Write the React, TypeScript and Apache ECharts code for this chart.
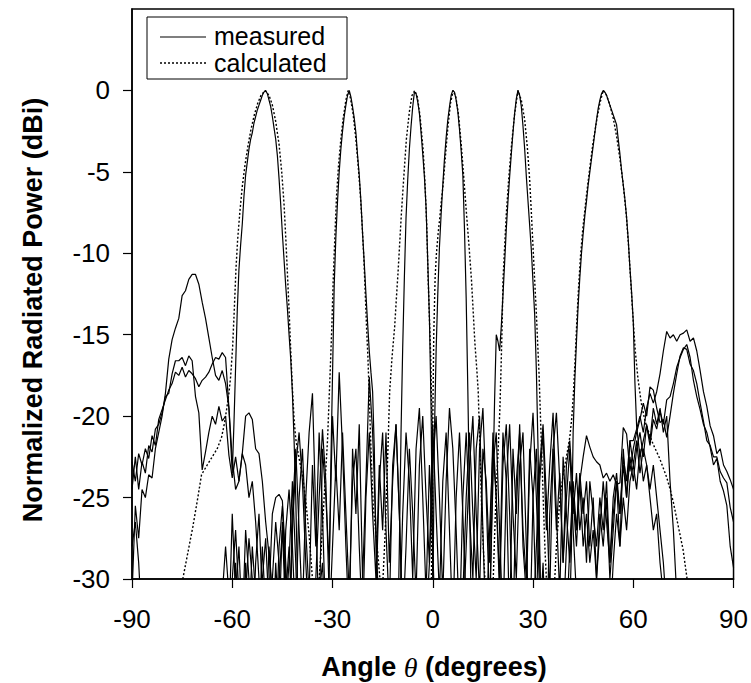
import React, { useEffect, useRef } from "react";
import * as echarts from "echarts";

// Measured patterns: one value per degree from -90 to 90 (null where the
// finer 0.5-degree main-lobe samples take over).
const beamM50Side: (number | null)[] = [
  -22.8, -24.0, -22.3, -23.0, -22.0, -22.6, -21.2, -21.8, -20.2, -19.6,
  -19.0, -18.4, -18.0, -17.3, -17.5, -17.0, -17.6, -17.2, -17.4, -17.7,
  -18.2, -17.8, -17.6, -17.3, -16.8, -16.4, -16.5, -16.1, -16.4, -19.5,
  null, null, null, null, null, null, null, null, null, null,
  null, null, null, null, null, null, null, null, null, null,
  null, -33, -36, -34, -38, -35, -37, -36, -34, -37,
  -35, -38, -36, -34, -37, -35, -38, -36, -33, -35,
  -37, -34, -36, -31, -24, -21, -27, -32, -23, -20.5,
  -26, -33, -36, -38, -35, -37, -34, -36, -38, -35,
  -37, -34, -36, -38, -35, -33, -37, -36, -34, -31,
  -25, -21, -26, -30, -22, -19.5, -25, -32, -23, -21,
  -27, -33, -24, -20.5, -26, -30, -23, -21, -28, -34,
  -25, -22, -29, -35, -37, -34, -36, -38, -35, -33,
  -28, -24, -26, -23.5, -27, -25, -29, -24, -26, -28,
  -25, -27, -24, -29, -26, -24, -28, -22, -25, -21.5,
  -21.5, -20.8, -20.0, -21.0, -19.5, -18.6, -19.2, -18.5, -17.4, -16.0,
  -14.8, -15.2, -15.0, -15.4, -15.0, -14.9, -14.7, -15.4, -15.2, -16.0,
  -17.2, -18.5, -19.4, -20.6, -21.2, -22.3, -22.0, -23.0, -23.4, -23.9,
  -24.5,
];
const beamM50LobeStart = -60;
const beamM50Lobe = [
  -23.5, -20.5, -17.0, -13.5, -11.0, -9.5, -8.2, -6.5, -5.2, -4.4,
  -3.6, -3.0, -2.6, -2.0, -1.6, -1.2, -0.9, -0.6, -0.3, -0.1,
  0.0, -0.2, -0.6, -1.0, -1.6, -2.3, -3.0, -4.0, -5.4, -7.0,
  -8.8, -10.4, -12.0, -13.4, -15.0, -16.5, -18.6, -21.5, -25, -30,
  -35,
];

const beamM25Side: (number | null)[] = [
  -24.5, -22.5, -24.5, -22.8, -23.5, -21.8, -22.2, -20.8, -20.5, -19.8,
  -18.8, -18.6, -17.4, -16.6, -16.6, -16.4, -16.9, -16.3, -16.6, -18.8,
  -19.8, -23.3, -22.2, -21.0, -20.0, -20.5, -19.4, -20.3, -20.0, -22.4,
  -23.8, -22.5, -24.0, -22.3, -20.0, -19.8, -20.2, -22.0, -22.3, -24.0,
  -26.5, -28.5, -31, -34, -28, -25.5, -30, -35, -27, -23,
  -21, -24, -29, -33, -36, -34, -31, -29, -34, null,
  null, null, null, null, null, null, null, null, null, null,
  null, null, null, null, null, -37, -34, -36, -38, -35,
  -37, -34, -36, -38, -35, -37, -34, -36, -33, -29,
  -23, -20, -25, -31, -24, -19.5, -22, -27, -33, -25,
  -21, -26, -30, -22, -20, -27, -34, -36, -38, -35,
  -37, -34, -36, -38, -35, -37, -34, -36, -38, -35,
  -33, -28, -23, -20.5, -25, -31, -22, -19.8, -24, -29,
  -23, -21.5, -25, -28, -24, -22.5, -21.2, -21.9, -22.5, -22.8,
  -23.0, -23.8, -23.5, -24, -23.6, -24.2, -24.1, -20.7, -21.1, -23.4,
  -22.0, -21.0, -20.2, -19.2, -20.0, -18.2, -18.4, -19.5, -20.4, -20.2,
  -21.3, -20.0, -18.6, -17.4, -16.3, -15.8, -15.9, -16.8, -17.2, -18.0,
  -19.2, -20.3, -21.5, -21.8, -22.5, -22.5, -23.4, -23.8, -24.1, -25.6,
  -26.5,
];
const beamM25LobeStart = -31;
const beamM25Lobe = [
  -30, -23, -17.5, -12, -9.0, -6.8, -5.0, -3.6, -2.5, -1.6,
  -0.9, -0.3, 0.0, -0.4, -1.0, -1.7, -2.6, -4.0, -5.2, -6.8,
  -8.8, -10.6, -12.5, -14.3, -16.0, -17.3, -18.5, -22, -28, -33,
  -35,
];

const beamM6Side: (number | null)[] = [
  -28, -26.5, -29, -33, -36, -34, -37, -35, -38, -36,
  -37, -35, -38, -36, -39, -37, -35, -38, -36, -34,
  -37, -35, -33, -36, -34, -32, -35, -31, -28, -31,
  -34, -29, -33, -36, -31, -27.5, -30, -35, -33, -28,
  -32, -36, -30, -26.5, -29, -34, -27, -24.5, -28, -33,
  -25, -22, -27, -31, -23, -28, -21, -26, -33, -36,
  -38, -35, -37, -34, -36, -38, -35, -37, -34, -36,
  -38, -35, -37, -34, -36, -38, -35, -33, -36, -34,
  null, null, null, null, null, null, null, null, null, null,
  null, -36, -38, -35, -37, -34, -36, -38, -35, -33,
  -28, -23, -20, -26, -31, -22, -24, -29, -21, -25,
  -31, -23, -20.5, -26, -33, -24, -21, -27, -30, -22,
  -25, -32, -24, -21, -27, -23, -19.8, -26, -31, -22.5,
  -26, -29, -25, -27, -24, -28, -26, -29, -27, -30,
  -26, -28, -25, -30, -27, -24, -26, -23, -25, -22.5,
  -24, -22, -21, -22.5, -20.5, -21.5, -19.5, -20.5, -19.5, -21.0,
  -20.0, -24, -27, -31, -35, -36, -38, -37, -39, -36,
  -38, -37, -39, -36, -38, -37, -39, -38, -36, -37,
  -38,
];
const beamM6LobeStart = -10.5;
const beamM6Lobe = [
  -34, -28, -21, -15.8, -11.5, -7.8, -5.5, -3.6, -2.2, -1.0,
  -0.1, -0.2, -0.7, -1.4, -2.6, -3.9, -5.3, -7.2, -10.5, -14.0,
  -19.5, -30,
];

const beamP6Side: (number | null)[] = [
  -36, -38, -35, -37, -39, -36, -38, -37, -35, -38,
  -36, -39, -37, -35, -38, -36, -37, -39, -36, -38,
  -35, -37, -36, -38, -34, -36, -33, -35, -32, -34,
  -30, -27, -31, -35, -29, -33, -28, -31, -36, -30,
  -27.5, -32, -35, -29, -33, -26.5, -31, -28, -33, -30,
  -36, -38, -35, -37, -34, -33, -36, -38, -35, -33,
  -28, -23, -27, -21, -26, -31, -24, -22, -28, -33,
  -25, -21, -26, -30, -23, -27, -21, -29, -24, -20.5,
  -26, -33, -36, -38, -35, -37, -34, -36, -33, -36,
  null, null, null, null, null, null, null, null, null, null,
  null, null, -35, -37, -34, -36, -38, -35, -37, -36,
  -38, -35, -37, -34, -36, -38, -35, -37, -34, -36,
  -38, -35, -33, -29, -35, -26, -22, -27, -23.5, -29,
  -25, -22, -27, -31, -35, -37, -34, -36, -38, -35,
  -37, -34, -36, -33, -29, -26, -28, -25, -27, -24,
  -23, -24.5, -22, -24, -23, -25, -27, -26, -29, -31,
  -34, -35, -37, -36, -38, -36, -37, -39, -36, -38,
  -37, -35, -38, -36, -37, -39, -36, -38, -37, -36,
  -38,
];
const beamP6LobeStart = 0;
const beamP6Lobe = [
  -32, -21, -16.0, -12.5, -9.6, -7.6, -5.8, -4.2, -2.9, -1.8,
  -1.0, -0.3, 0.0, -0.1, -0.6, -1.3, -2.4, -3.7, -5.2, -8.6,
  -12.8, -18.5, -25, -32,
];

const beamP25Side: (number | null)[] = [
  -37, -35, -38, -36, -39, -37, -36, -38, -35, -37,
  -39, -36, -38, -37, -35, -38, -36, -39, -37, -35,
  -38, -36, -34, -37, -35, -33, -36, -34, -31, -33,
  -26, -31, -28, -33, -27, -30, -35, -29, -26, -31,
  -34, -28, -31, -36, -30, -27, -32, -29, -24, -29,
  -36, -38, -35, -37, -34, -30, -25, -20.8, -24, -31,
  -36, -38, -35, -37, -34, -36, -38, -35, -37, -34,
  -36, -38, -35, -37, -34, -36, -38, -35, -37, -34,
  -36, -33, -28, -22, -26, -31, -23, -20, -25, -29,
  -20.5, -26, -31, -24, -21, -27, -33, -25, -21, -26,
  -32, -36, -38, -35, -37, -34, -36, -33, null, null,
  null, null, null, null, null, null, null, null, null, null,
  null, null, null, null, -36, -38, -35, -37, -34, -36,
  -33, -28, -24, -27, -23.5, -26, -24, -28, -25, -30,
  -27, -24, -26.5, -29, -25, -23.5, -26, -22.5, -24, -21.5,
  -23, -21.5, -23.5, -22, -23, -24.5, -23, -25, -27, -29,
  -32, -34, -36, -35, -37, -36, -38, -35, -37, -39,
  -36, -38, -37, -35, -38, -36, -37, -39, -36, -38,
  -37,
];
const beamP25LobeStart = 17.5;
const beamP25Lobe = [
  -28, -24, -19, -15.0, -15.4, -16.0, -14.5, -12.6, -10.6, -8.5,
  -6.8, -5.3, -3.9, -2.6, -1.4, -0.5, 0.0, -0.3, -1.0, -2.2,
  -3.6, -5.3, -6.8, -8.3, -9.8, -11.8, -13.8, -17.2, -22, -28,
  -34, -36,
];

const beamP50Side: (number | null)[] = [
  -31, -25.5, -27.5, -24.5, -25.0, -23.6, -23.8, -22.0, -21.0, -20.0,
  -18.6, -16.5, -15.3, -14.6, -14.0, -12.6, -12.3, -11.6, -11.3, -11.3,
  -11.9, -13.0, -14.0, -15.2, -16.4, -17.5, -17.8, -17.2, -18.0, -19.5,
  -22.6, -24.5, -24.0, -22.3, -23.0, -25.0, -24.0, -26.5, -30, -35,
  -38, -31, -26, -25.0, -24.8, -25.2, -29, -34, -26, -22,
  -27, -32, -25, -21, -18.6, -26, -33, -22, -25, -29,
  -20, -24, -17.3, -22, -28, -33, -22, -26, -20.5, -30,
  -24, -17.6, -21, -27, -33, -36, -34, -37, -35, -38,
  -33, -26, -21, -24, -30, -22, -19.5, -25, -31, -23,
  -28, -35, -37, -34, -36, -38, -35, -37, -34, -36,
  -38, -35, -37, -34, -36, -38, -33, -27, -22, -25,
  -30, -21, -24, -33, -22, -26, -20.5, -28, -31, -23,
  -19.8, -25, -31, -36, -38, -35, -37, -34, -36, -38,
  -35, -32, null, null, null, null, null, null, null, null,
  null, null, null, null, null, null, null, null, null, null,
  null, null, -22.5, -21.5, -20.6, -21.8, -20.2, -20.8, -19.7, -20.5,
  -19.0, -18.8, -18.0, -17.0, -16.4, -15.9, -15.6, -16.4, -17.8, -18.8,
  -19.6, -20.5, -21.0, -21.9, -23.0, -22.6, -24.0, -24.6, -25.5, -28.0,
  -29.3,
];
const beamP50LobeStart = 41.5;
const beamP50Lobe = [
  -28, -21, -17.8, -15.4, -13.2, -11.5, -10.0, -8.8, -7.7, -6.8,
  -5.8, -5.0, -4.2, -3.4, -2.6, -1.8, -1.1, -0.6, -0.2, 0.0,
  -0.1, -0.3, -0.6, -0.9, -1.2, -1.5, -1.8, -2.1, -3.0, -3.9,
  -4.9, -5.8, -6.7, -7.8, -9.2, -10.9, -12.4, -14.2, -18.0, -20.6,
];

// Calculated patterns as [angle, dB] samples.
const calcM50: [number, number][] = [
  [-74.8, -30], [-73.3, -28.4], [-71.8, -26.8], [-70.3, -25.0], [-69.2, -23.6],
  [-67.5, -23.0], [-66, -22.5], [-64.5, -22.0], [-63.2, -21.3], [-62.3, -20.4],
  [-61.7, -19.6], [-61, -18.6], [-60.5, -17.6], [-59.9, -15.8], [-59.4, -13.5],
  [-58.9, -11.0], [-58.4, -9.2], [-57.7, -7.4], [-57, -5.9], [-56.2, -4.6],
  [-55.3, -3.4], [-54.4, -2.4], [-53.4, -1.5], [-52.4, -0.8], [-51.4, -0.3],
  [-50.2, 0], [-49, -0.3], [-48, -0.9], [-47, -1.9], [-46, -3.3],
  [-45.2, -5.0], [-44.5, -7.0], [-44, -9.0], [-43.5, -11.2], [-43, -13.5],
  [-42.5, -16.0], [-42, -18.3], [-41.5, -20.2], [-41, -21.4], [-40, -22.6],
  [-39, -23.6], [-38, -25.2], [-37, -27.3], [-36, -30],
];
const calcM25: [number, number][] = [
  [-34, -30], [-33.5, -28.5], [-32.5, -25], [-31.5, -21.5], [-30.8, -17.8],
  [-30.2, -14.5], [-29.8, -11.7], [-29.3, -9.0], [-28.8, -6.5], [-28.2, -4.6],
  [-27.5, -3.0], [-26.8, -1.7], [-26, -0.6], [-25.3, 0], [-24.6, -0.5],
  [-23.8, -1.5], [-23, -3.0], [-22.4, -4.4], [-21.8, -6.0], [-21.2, -8.0],
  [-20.6, -10.4], [-20.2, -12.5], [-19.8, -14.6], [-19.4, -16.4], [-19, -18.8],
  [-18.5, -22], [-17.8, -25.6], [-16.8, -27.6], [-15.8, -30],
];
const calcM6: [number, number][] = [
  [-14.9, -30], [-14.2, -27], [-13.9, -25], [-13.4, -21.9], [-12.9, -18.5],
  [-12.2, -16.4], [-11.4, -14.5], [-10.9, -12.8], [-10.4, -11.2], [-9.9, -9.4],
  [-9.4, -7.6], [-8.7, -5.4], [-7.9, -3.0], [-7, -1.3], [-6.2, -0.3],
  [-5.4, 0], [-4.6, -0.4], [-3.8, -1.6], [-2.9, -3.6], [-2.3, -5.8],
  [-1.8, -8.3], [-1.4, -11.5], [-1.0, -14], [-0.6, -16.5], [-0.2, -21],
  [0.1, -30],
];
const calcP6: [number, number][] = [
  [-0.4, -30], [-0.1, -22], [0.3, -15], [0.7, -11.5], [1.1, -10],
  [1.6, -8.8], [2.1, -7.8], [2.6, -6.7], [3.1, -5.8], [3.8, -4.0],
  [4.5, -2.3], [5.3, -0.8], [6.1, 0], [6.9, -0.4], [7.7, -1.5],
  [8.5, -3.3], [9.3, -5.4], [10.1, -7.6], [10.9, -9.7], [11.6, -11.7],
  [12.1, -13.6], [12.6, -15.5], [13.2, -17.2], [13.6, -18.5], [14.1, -21.9],
  [14.6, -25.5], [15.1, -28], [15.6, -30],
];
const calcP25: [number, number][] = [
  [18.1, -30], [18.4, -28], [18.9, -25], [19.6, -21.9], [20.1, -19.5],
  [20.5, -16.5], [20.8, -14.0], [21.0, -11.7], [21.5, -9.6], [22.0, -7.6],
  [22.7, -5.5], [23.5, -3.5], [24.4, -1.6], [25.5, 0], [26.5, -0.6],
  [27.5, -1.8], [28.3, -3.5], [29, -5.5], [29.5, -7.5], [30, -9.6],
  [30.5, -11.7], [31, -13.7], [31.4, -15.6], [31.8, -17.4], [32.3, -20.5],
  [32.8, -23.5], [33.2, -26], [33.6, -28.3], [34, -30],
];
const calcP50: [number, number][] = [
  [36.5, -30], [37, -28], [38, -25.2], [39, -23.6], [40, -22.5],
  [41, -21.3], [41.6, -20.1], [42.1, -18.6], [42.6, -16.5], [43.1, -14.2],
  [43.6, -12.2], [44.2, -10.2], [44.9, -8.5], [45.9, -6.6], [46.9, -4.9],
  [47.9, -3.3], [49, -1.9], [50, -0.8], [51, 0], [52, -0.3],
  [53, -0.9], [54, -1.7], [55, -2.8], [56, -4.2], [57, -5.8],
  [57.9, -7.6], [58.6, -9.6], [59.2, -11.6], [59.9, -13.9], [60.6, -16.0],
  [61.4, -17.7], [62.4, -19.2], [63.5, -20.3], [64.8, -21.1], [65.9, -21.7],
  [67.9, -22.6], [69.9, -23.7], [70.9, -24.4], [72, -25.3], [72.9, -26.2],
  [73.9, -27.2], [74.9, -28.2], [76.1, -30],
];

const xTicks = [-90, -60, -30, 0, 30, 60, 90];
const yTicks = [-30, -25, -20, -15, -10, -5, 0];
const legendLabels = ["measured", "calculated"];

const FONT = "'Liberation Sans', Arial, Helvetica, sans-serif";

// Joins the 1-degree sidelobe samples with the 0.5-degree main-lobe samples.
function buildTrace(
  side: (number | null)[],
  lobeStart: number,
  lobe: number[]
): [number, number][] {
  const lobeEnd = lobeStart + (lobe.length - 1) * 0.5;
  const pts: [number, number][] = [];
  side.forEach((v, i) => {
    const a = -90 + i;
    if (v !== null && (a < lobeStart || a > lobeEnd)) pts.push([a, v]);
  });
  lobe.forEach((v, i) => pts.push([lobeStart + i * 0.5, v]));
  pts.sort((p, q) => p[0] - q[0]);
  return pts;
}

const measured = [
  buildTrace(beamM50Side, beamM50LobeStart, beamM50Lobe),
  buildTrace(beamM25Side, beamM25LobeStart, beamM25Lobe),
  buildTrace(beamM6Side, beamM6LobeStart, beamM6Lobe),
  buildTrace(beamP6Side, beamP6LobeStart, beamP6Lobe),
  buildTrace(beamP25Side, beamP25LobeStart, beamP25Lobe),
  buildTrace(beamP50Side, beamP50LobeStart, beamP50Lobe),
];
const calculated = [calcM50, calcM25, calcM6, calcP6, calcP25, calcP50];

export default function App() {
  const ref = useRef<HTMLDivElement>(null);

  useEffect(() => {
    document.body.style.margin = "0";
    if (!ref.current) return;
    const chart = echarts.init(ref.current, undefined, { renderer: "svg" });

    const series: any[] = [];
    measured.forEach((d) => {
      series.push({
        name: legendLabels[0],
        type: "line",
        data: d,
        symbol: "none",
        showSymbol: false,
        clip: true,
        silent: true,
        z: 2,
        lineStyle: { color: "#000", width: 1.2 },
      });
    });
    calculated.forEach((d) => {
      series.push({
        name: legendLabels[1],
        type: "line",
        data: d,
        symbol: "none",
        showSymbol: false,
        clip: true,
        silent: true,
        z: 3,
        lineStyle: { color: "#000", width: 1.4, type: [2, 2] },
      });
    });

    const legendText = (text: string, y: number) => ({
      type: "text",
      x: 214,
      y,
      z: 11,
      style: {
        text,
        fill: "#000",
        font: `25px ${FONT}`,
        align: "left",
        verticalAlign: "middle",
      },
    });

    chart.setOption({
      animation: false,
      backgroundColor: "#fff",
      grid: {
        left: 132,
        right: 16,
        top: 9,
        bottom: 104,
        show: true,
        borderColor: "#000",
        borderWidth: 1.5,
        backgroundColor: "transparent",
      },
      xAxis: {
        type: "value",
        min: -90,
        max: 90,
        interval: 30,
        axisLine: { show: true, onZero: false, lineStyle: { color: "#000", width: 1.5 } },
        axisTick: { show: true, inside: false, length: 9, customValues: xTicks, lineStyle: { color: "#000", width: 1.2 } },
        axisLabel: {
          customValues: xTicks,
          margin: 27,
          color: "#000",
          fontSize: 26,
          fontFamily: FONT,
        },
        splitLine: { show: false },
      },
      yAxis: {
        type: "value",
        min: -30,
        max: 5,
        interval: 5,
        axisLine: { show: true, onZero: false, lineStyle: { color: "#000", width: 1.5 } },
        axisTick: { show: true, inside: false, length: 9, customValues: yTicks, lineStyle: { color: "#000", width: 1.2 } },
        axisLabel: {
          customValues: yTicks,
          margin: 22,
          color: "#000",
          fontSize: 26,
          fontFamily: FONT,
          formatter: (v: number) => (v > 0 ? "" : String(v)),
        },
        splitLine: { show: false },
      },
      graphic: [
        {
          type: "rect",
          shape: { x: 147, y: 17, width: 200, height: 62 },
          style: { fill: "#fff", stroke: "#000", lineWidth: 1 },
          z: 10,
        },
        {
          type: "line",
          shape: { x1: 160, y1: 37, x2: 206, y2: 37 },
          style: { stroke: "#000", lineWidth: 1.2 },
          z: 11,
        },
        {
          type: "line",
          shape: { x1: 160, y1: 63, x2: 206, y2: 63 },
          style: { stroke: "#000", lineWidth: 1.4, lineDash: [2, 2] },
          z: 11,
        },
        legendText(legendLabels[0], 36),
        legendText(legendLabels[1], 63),
        {
          type: "text",
          x: 33,
          y: 310,
          rotation: Math.PI / 2,
          z: 11,
          style: {
            text: "Normalized Radiated Power (dBi)",
            fill: "#000",
            font: `bold 27px ${FONT}`,
            align: "center",
            verticalAlign: "middle",
          },
        },
        {
          type: "text",
          x: 434,
          y: 667,
          z: 11,
          style: {
            text: "{a|Angle }{t|θ}{a| (degrees)}",
            align: "center",
            verticalAlign: "middle",
            rich: {
              a: { fontFamily: FONT, fontWeight: "bold", fontSize: 27, fill: "#000" },
              t: {
                fontFamily: "'Liberation Serif', 'DejaVu Serif', serif",
                fontStyle: "italic",
                fontSize: 28,
                fill: "#000",
              },
            },
          },
        },
      ],
      series,
    });

    return () => chart.dispose();
  }, []);

  return <div ref={ref} style={{ width: 751, height: 683 }} />;
}
